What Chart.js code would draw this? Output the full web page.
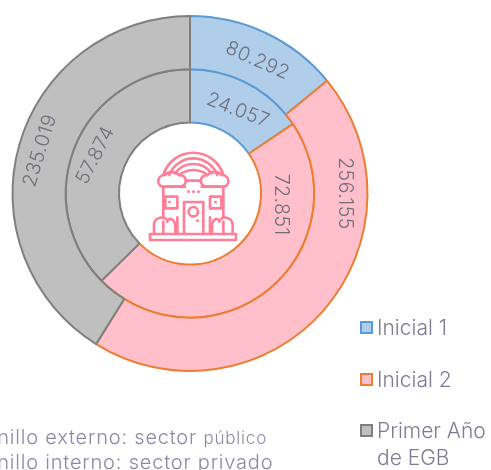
<!DOCTYPE html>
<html>
<head>
<meta charset="utf-8">
<script src="https://cdn.jsdelivr.net/npm/chart.js@4"></script>
<style>
    html, body { margin: 0; padding: 0; background: #fff; overflow: hidden; }
    #wrap { position: relative; width: 491px; height: 470px; overflow: hidden; font-family: "Inter", sans-serif; font-weight: 300; }
    #myChart { position: absolute; left: 0; top: 0; }
    #icon { position: absolute; left: 130px; top: 130px; }
    .legendItem { position: absolute; left: 360px; font-size: 21px; line-height: 27px; color: #7c7c92; white-space: nowrap; }
    .legendItem i { position: absolute; left: 0; top: 7px; width: 9px; height: 9px; border-width: 2px; border-style: solid; }
    .legendItem span { display: block; margin-left: 17px; }
    .note { position: absolute; left: -17px; font-size: 20px; line-height: 22px; color: #8a8aa6; white-space: nowrap; letter-spacing: 0.8px; }
    .note small { font-size: 17px; }
</style>
</head>
<body>
<div id="wrap">
    <canvas id="myChart" width="491" height="470"></canvas>
    <svg id="icon" width="120" height="120" viewBox="0 0 360 360" fill="none" stroke="#ff7f98" stroke-width="8" stroke-linecap="round" stroke-linejoin="round">
        <path d="M60 312H318V330H60Z"/>
        <path d="M100 135A94 94 0 0 1 280 135M118 135A77 77 0 0 1 262 135M135 130A68 68 0 0 1 245 130M150 133A68 68 0 0 1 230 133"/>
        <path d="M100 170V262M280 170V262M142 310V262M240 310V262"/>
        <path d="M168 152H212M112 170H165M215 170H268"/>
        <path d="M100 170C80 170 78 135 105 135C115 122 140 125 148 136C172 132 175 170 150 170Z"/>
        <path d="M280 170C300 170 302 135 275 135C265 122 240 125 232 136C208 132 205 170 230 170Z"/>
        <path d="M162 310V216H220V310"/>
        <circle cx="190" cy="245" r="14"/>
        <path d="M202 272h1M175 185h1M190 185h1M205 185h1M118 216h1M256 216h1"/>
        <path d="M106 200H142V235H106ZM240 200H274V235H240Z"/>
        <path d="M72 312V285C72 260 108 255 112 275C118 258 136 270 136 290V312M100 312V275"/>
        <path d="M308 312V285C308 260 272 255 268 275C262 258 246 270 246 290V312M280 312V275"/>
    </svg>
    <div id="legend"></div>
    <div class="note" style="top:426px">Anillo externo: sector <small>público</small></div>
    <div class="note" style="top:451px">Anillo interno: sector privado</div>
</div>
<script>
const categories = ['Inicial 1', 'Inicial 2', ['Primer Año', 'de EGB']];
const sectorPublico = [80292, 256155, 235019];
const sectorPrivado = [24057, 72851, 57874];

const fillColors = ['#b0cde9', '#ffc0cb', '#bfbfbf'];
const lineColors = ['#5b9bd5', '#ed7d31', '#7f7f7f'];

// hand placed value labels: angle on the ring, distance from centre, text tilt
const labelAngles = [[27, 90, -74], [30, 97, -68]];
const labelRadii = [[149, 155, 156], [96, 92, 102]];
const labelTilts = [[24, 90, -73], [21, 90, -63]];

const ringLabels = {
    id: 'ringLabels',
    afterDatasetsDraw(chart) {
        const ctx = chart.ctx;
        chart.data.datasets.forEach((ds, d) => {
            chart.getDatasetMeta(d).data.forEach((arc, i) => {
                const r = labelRadii[d][i];
                const a = labelAngles[d][i] * Math.PI / 180;
                ctx.save();
                ctx.translate(arc.x + r * Math.sin(a), arc.y - r * Math.cos(a));
                ctx.rotate(labelTilts[d][i] * Math.PI / 180);
                ctx.font = '300 19.5px Inter';
                ctx.letterSpacing = '0.5px';
                ctx.fillStyle = '#6f6f7c';
                ctx.textAlign = 'center';
                ctx.textBaseline = 'middle';
                ctx.fillText(ds.data[i].toLocaleString('de-DE'), 0, 0);
                ctx.restore();
            });
        });
    }
};

const ctx = document.getElementById('myChart').getContext('2d');
new Chart(ctx, {
    type: 'doughnut',
    data: {
        labels: categories,
        datasets: [
            { data: sectorPublico, backgroundColor: fillColors, borderColor: lineColors, borderWidth: 2 },
            { data: sectorPrivado, backgroundColor: fillColors, borderColor: lineColors, borderWidth: 2 }
        ]
    },
    options: {
        responsive: false,
        animation: false,
        cutout: '40%',
        layout: { padding: { left: 11.5, top: 15, right: 122.5, bottom: 98 } },
        plugins: { legend: { display: false }, tooltip: { enabled: false } }
    },
    plugins: [ringLabels]
});

// legend built from the same categories
const legendTops = [314, 366, 417];
const legend = document.getElementById('legend');
categories.forEach((cat, i) => {
    const item = document.createElement('div');
    item.className = 'legendItem';
    item.style.top = legendTops[i] + 'px';
    item.innerHTML = '<i style="background:' + fillColors[i] + ';border-color:' + lineColors[i] + '"></i>' +
        '<span>' + [].concat(cat).join('<br>') + '</span>';
    legend.appendChild(item);
});
</script>
</body>
</html>
